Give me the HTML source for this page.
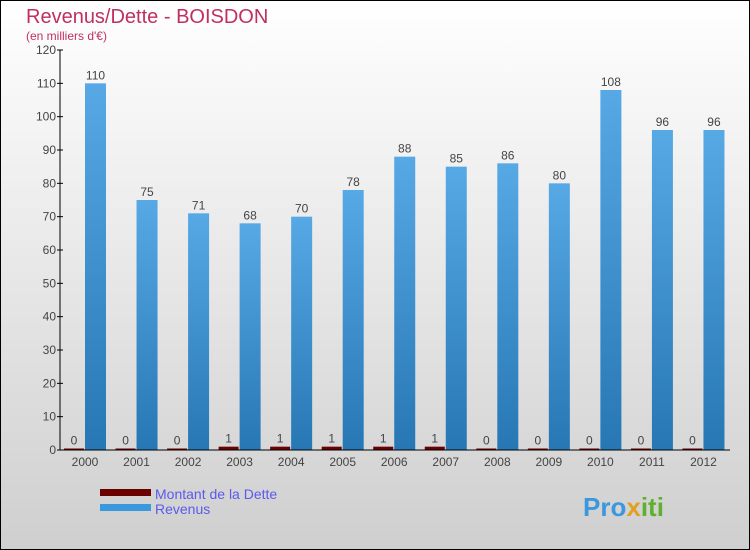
<!DOCTYPE html>
<html><head><meta charset="utf-8"><style>
body{margin:0;}
#wrap{width:750px;height:550px;position:relative;overflow:hidden;font-family:"Liberation Sans",sans-serif;}
</style></head><body>
<div id="wrap">
<svg width="750" height="550" xmlns="http://www.w3.org/2000/svg">
<defs>
<linearGradient id="bg" x1="0" y1="0" x2="0" y2="1"><stop offset="0" stop-color="#ffffff"/><stop offset="1" stop-color="#cfcfcf"/></linearGradient>
<linearGradient id="rev" x1="0" y1="0" x2="0" y2="1"><stop offset="0" stop-color="#57a9e6"/><stop offset="1" stop-color="#2677b3"/></linearGradient>
</defs>
<rect x="0.5" y="0.5" width="749" height="549" fill="url(#bg)" stroke="#000"/>
<text x="26" y="23" font-size="20" fill="#c0305e">Revenus/Dette - BOISDON</text>
<text x="26" y="40" font-size="12" fill="#c0305e">(en milliers d'€)</text>
<g id="yaxis"></g>
<g id="bars"></g>
<g id="xaxis"></g>
<g>
<rect x="100" y="489" width="51" height="7" fill="#6b0000"/>
<text x="155" y="499" font-size="14" fill="#5a5aee">Montant de la Dette</text>
<rect x="100" y="504" width="51" height="7" fill="#3a98de"/>
<text x="155" y="514" font-size="14" fill="#5a5aee">Revenus</text>
</g>
<text x="583" y="516" font-size="26" font-weight="bold" fill="#3a98de">Pro<tspan fill="#e0a020">x</tspan><tspan fill="#60b030">iti</tspan></text>
</svg>
</div>
<script>
const years=["2000","2001","2002","2003","2004","2005","2006","2007","2008","2009","2010","2011","2012"];
const debt=[0,0,0,1,1,1,1,1,0,0,0,0,0];
const revenue=[110,75,71,68,70,78,88,85,86,80,108,96,96];
const yTicks=[0,10,20,30,40,50,60,70,80,90,100,110,120];
const NS="http://www.w3.org/2000/svg";
const x0=60,x1=730,yBase=450,yTop=50,yMax=120;
const gw=(x1-x0)/years.length;
function y(v){return yBase-(v/yMax)*(yBase-yTop);}
function mk(t,a,p){const e=document.createElementNS(NS,t);for(const k in a)e.setAttribute(k,a[k]);p.appendChild(e);return e;}
const ya=document.getElementById('yaxis'),bg=document.getElementById('bars'),xa=document.getElementById('xaxis');
let l=mk('line',{x1:x0,y1:yTop,x2:x0,y2:yBase,stroke:'#000'},ya);


yTicks.forEach(v=>{
 const t=mk('line',{x1:x0-3,x2:x0+3,y1:y(v),y2:y(v),stroke:'#000'},ya);
 
 
 const tx=mk('text',{x:x0-4,y:y(v)+4,'font-size':12,'text-anchor':'end',fill:'#444'},ya);
 tx.textContent=v;
 
 
});
years.forEach((yr,i)=>{
 const s=x0+i*gw;
 const hd=Math.max(y(0)-y(debt[i]),1.5);
 const d=mk('rect',{x:s+4,y:yBase-hd,width:20,height:hd,fill:'#6b0000'},bg);
 
 
 const dl=mk('text',{x:s+14,y:yBase-hd-4,'font-size':12,'text-anchor':'middle',fill:'#444'},bg);
 dl.textContent=debt[i];
 
 
 const r=mk('rect',{x:s+25,y:y(revenue[i]),width:21,height:yBase-y(revenue[i]),fill:'url(#rev)'},bg);
 
 
 const rl=mk('text',{x:s+35.5,y:y(revenue[i])-4,'font-size':12,'text-anchor':'middle',fill:'#444'},bg);
 rl.textContent=revenue[i];
 
 
 const xl=mk('text',{x:s+25,y:466,'font-size':12,'text-anchor':'middle',fill:'#444'},xa);
 xl.textContent=yr;
 
 
});
const xl2=mk('line',{x1:x0,y1:yBase,x2:x1,y2:yBase,stroke:'#000'},xa);


</script>
</body></html>
